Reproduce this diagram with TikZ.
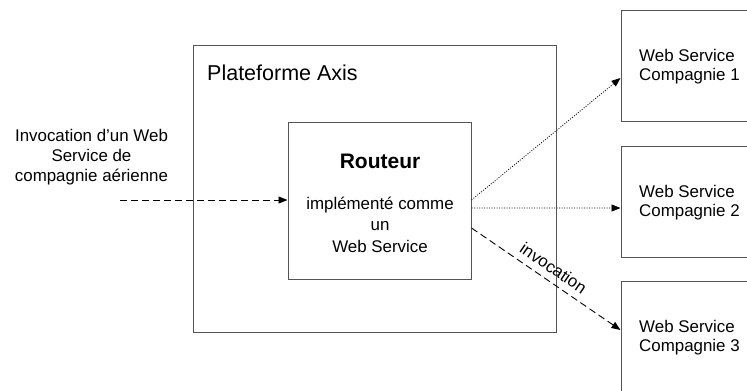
\documentclass[tikz,border=0pt]{standalone}
\usepackage{fontspec}
\setmainfont{Liberation Sans}
\usetikzlibrary{arrows.meta}
\definecolor{boxgray}{RGB}{85,85,85}
\tikzset{
  box/.style={draw=boxgray, line width=1bp, inner sep=0pt},
  small/.style={font=\fontsize{16.9bp}{20bp}\selectfont, inner sep=0pt},
  arr/.style={-{Triangle[length=9bp,width=7bp]}, line width=0.9bp, black},
  dashpat/.style={dash pattern=on 7bp off 4bp},
  dotpat/.style={dash pattern=on 1bp off 1.5bp, line width=0.8bp},
}
\begin{document}
\begin{tikzpicture}[x=1bp,y=-1bp]
\useasboundingbox (0,0) rectangle (747,390);
\clip (0,0) rectangle (747,390);
\fill[white] (0,0) rectangle (747,390);
% boxes
\node[box, minimum width=363bp, minimum height=287bp] (axis) at (374.5,188.5) {};
\node[box, minimum width=183bp, minimum height=157bp] (router) at (379.5,200.5) {};
\node[box, minimum width=130bp, minimum height=111bp] (ws1) at (686,65.5) {};
\node[box, minimum width=130bp, minimum height=111bp] (ws2) at (686,201.5) {};
\node[box, minimum width=130bp, minimum height=111bp] (ws3) at (686,336.5) {};
% texts
\node[anchor=base west, inner sep=0pt, font=\fontsize{21.5bp}{25bp}\selectfont] (axist) at (207,80) {Plateforme Axis};
\node[anchor=base, inner sep=0pt, font=\fontsize{21bp}{25bp}\selectfont\bfseries] (routt) at (380,168) {Routeur};
\node[small, align=center, font=\fontsize{16.9bp}{21.5bp}\selectfont] (routd) at (380,224.5) {implémenté comme\\un\\Web Service};
\node[small, align=center] (inv) at (91.5,157.5) {Invocation d’un Web\\Service de\\compagnie aérienne};
\node[small, align=left, anchor=west, font=\fontsize{16.9bp}{19bp}\selectfont] (ws1t) at (639,67) {Web Service\\Compagnie 1};
\node[small, align=left, anchor=west, font=\fontsize{16.9bp}{19bp}\selectfont] (ws2t) at (639,202.5) {Web Service\\Compagnie 2};
\node[small, align=left, anchor=west, font=\fontsize{16.9bp}{19bp}\selectfont] (ws3t) at (639,338) {Web Service\\Compagnie 3};
% connectors
\coordinate (src) at (120,200);
\draw[arr, dashpat] (src) -- (src -| router.west);
\draw[arr, dotpat] ([yshift=0.5bp]router.east) -- ([yshift=-12.5bp]ws1.west);
\draw[arr, dotpat] ([yshift=-7.5bp]router.east) -- ([yshift=-6.5bp]ws2.west);
\draw[arr, dashpat] ([yshift=-27.5bp]router.east) -- ([yshift=6.5bp]ws3.west);
\node[small, rotate=-34.2] (invlab) at (553.5,268) {invocation};
\end{tikzpicture}
\end{document}
